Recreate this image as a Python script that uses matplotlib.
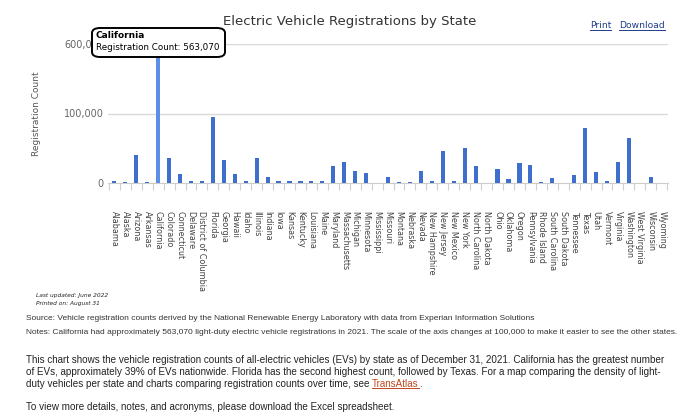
import numpy as np
import matplotlib
matplotlib.use("Agg")
import matplotlib.pyplot as plt
from matplotlib.patches import FancyBboxPatch
from matplotlib.lines import Line2D

states = ["Alabama", "Alaska", "Arizona", "Arkansas", "California", "Colorado",
          "Connecticut", "Delaware", "District of Columbia", "Florida", "Georgia",
          "Hawaii", "Idaho", "Illinois", "Indiana", "Iowa", "Kansas", "Kentucky",
          "Louisiana", "Maine", "Maryland", "Massachusetts", "Michigan", "Minnesota",
          "Mississippi", "Missouri", "Montana", "Nebraska", "Nevada", "New Hampshire",
          "New Jersey", "New Mexico", "New York", "North Carolina", "North Dakota",
          "Ohio", "Oklahoma", "Oregon", "Pennsylvania", "Rhode Island",
          "South Carolina", "South Dakota", "Tennessee", "Texas", "Utah", "Vermont",
          "Virginia", "Washington", "West Virginia", "Wisconsin", "Wyoming"]

counts = [3300, 900, 39700, 1400, 563070, 35400,
          12400, 2900, 2900, 94700, 33000,
          13400, 2900, 35400, 8600, 2900, 3500, 3500,
          2900, 2900, 24400, 29700, 16700, 14400,
          600, 8600, 800, 1400, 16700, 3300,
          45900, 3300, 50200, 24400, 300,
          20100, 5700, 28700, 25400, 1900,
          6700, 400, 11500, 79400, 15800, 2900,
          30100, 65100, 600, 8100, 300]

yticks = [0, 100000, 600000]
ytick_labels = ["0", "100,000", "600,000"]
highlight = "California"

BREAK = 100000


# axis is linear to 100,000 then compressed up to 600,000
def fwd(v):
    v = np.asarray(v, dtype=float)
    return np.where(v <= BREAK, v / BREAK, 1 + (v - BREAK) / 500000)


def inv(u):
    u = np.asarray(u, dtype=float)
    return np.where(u <= 1, u * BREAK, BREAK + (u - 1) * 500000)


W, H = 680, 416
fig = plt.figure(figsize=(W / 100, H / 100), dpi=100)
ax = fig.add_axes([108 / W, 1 - 183 / H, 560 / W, 139 / H])
ax.set_yscale("function", functions=(fwd, inv))

x = np.arange(len(states))
colors = ["#5b8fe8" if s == highlight else "#3f6fcc" for s in states]
ax.bar(x, counts, width=0.38, color=colors, zorder=3)

ax.set_xlim(-0.58, len(states) - 0.43)
ax.set_ylim(0, 600000)
ax.set_yticks(yticks)
ax.set_yticklabels(ytick_labels, fontsize=7, color="#666666")
ax.tick_params(axis="y", length=0, pad=3)

for t in yticks[1:]:
    ax.axhline(t, color="#d9d9d9", lw=1, zorder=1)

for s in ["top", "right", "left"]:
    ax.spines[s].set_visible(False)
ax.spines["bottom"].set_color("#cccccc")

ax.set_xticks(x)
ax.set_xticklabels(states, rotation=-90, fontsize=5.8, color="#444444",
                   ha="center", va="top")
ax.tick_params(axis="x", which="major", length=0, pad=20)
ax.set_xticks(np.arange(len(states) + 1) - 0.5, minor=True)
ax.tick_params(axis="x", which="minor", length=5, color="#d0d0d0", width=0.8)

ax.set_ylabel("Registration Count", fontsize=6.5, color="#555555")
ax.yaxis.set_label_coords(-0.12, 0.5)

fig.text(350 / W, 1 - 22 / H, "Electric Vehicle Registrations by State",
         ha="center", va="center", fontsize=9.5, color="#333333")

# tooltip for the highlighted state
box = FancyBboxPatch((92 / W, 1 - 57 / H), 133 / W, 29 / H,
                     boxstyle="round,pad=0,rounding_size=0.012",
                     transform=fig.transFigure, facecolor="white",
                     edgecolor="black", lw=1.4, zorder=10)
fig.patches.append(box)
ci = states.index(highlight)
fig.text(96 / W, 1 - 36 / H, highlight, fontsize=6.5, fontweight="bold",
         va="center", zorder=11)
fig.text(96 / W, 1 - 48 / H, f"Registration Count: {counts[ci]:,}",
         fontsize=6.3, va="center", zorder=11)

fig.canvas.draw()
rend = fig.canvas.get_renderer()


def underline(t, color, gap=0.5):
    bb = t.get_window_extent(rend)
    y = (bb.y0 + gap) / H
    fig.add_artist(Line2D([bb.x0 / W, bb.x1 / W], [y, y], color=color,
                          lw=0.7, transform=fig.transFigure))


link = "#1f3f8a"
t1 = fig.text(590 / W, 1 - 26 / H, "Print", fontsize=6.6, color=link, va="center")
t2 = fig.text(619 / W, 1 - 26 / H, "Download", fontsize=6.6, color=link, va="center")
underline(t1, link)
underline(t2, link)

fig.text(36 / W, 1 - 296 / H, "Last updated: June 2022", fontsize=4.2,
         style="italic", color="#222222", va="center")
fig.text(36 / W, 1 - 304 / H, "Printed on: August 31", fontsize=4.2,
         style="italic", color="#222222", va="center")

foot = dict(family="Liberation Sans", color="#333333", va="center")
fig.text(26 / W, 1 - 319 / H,
         "Source: Vehicle registration counts derived by the National Renewable "
         "Energy Laboratory with data from Experian Information Solutions",
         fontsize=6.0, **foot)
fig.text(26 / W, 1 - 333 / H,
         "Notes: California had approximately 563,070 light-duty electric vehicle "
         "registrations in 2021. The scale of the axis changes at 100,000 to make "
         "it easier to see the other states.", fontsize=6.0, **foot)

para = dict(family="Liberation Sans", color="#222222", va="center", fontsize=7.1)
fig.text(26 / W, 1 - 360 / H,
         "This chart shows the vehicle registration counts of all-electric vehicles "
         "(EVs) by state as of December 31, 2021. California has the greatest number",
         **para)
fig.text(26 / W, 1 - 372 / H,
         "of EVs, approximately 39% of EVs nationwide. Florida has the second highest "
         "count, followed by Texas. For a map comparing the density of light-",
         **para)
t3 = fig.text(26 / W, 1 - 384 / H,
              "duty vehicles per state and charts comparing registration counts over "
              "time, see ", **para)
bb = t3.get_window_extent(rend)
t4 = fig.text(bb.x1 / W, 1 - 384 / H, "TransAtlas", **{**para, "color": "#c0471f"})
underline(t4, "#c0471f", gap=1.5)
fig.text(t4.get_window_extent(rend).x1 / W, 1 - 384 / H, ".", **para)
fig.text(26 / W, 1 - 407 / H,
         "To view more details, notes, and acronyms, please download the Excel "
         "spreadsheet.", **para)

fig.savefig("out.png", dpi=100)
